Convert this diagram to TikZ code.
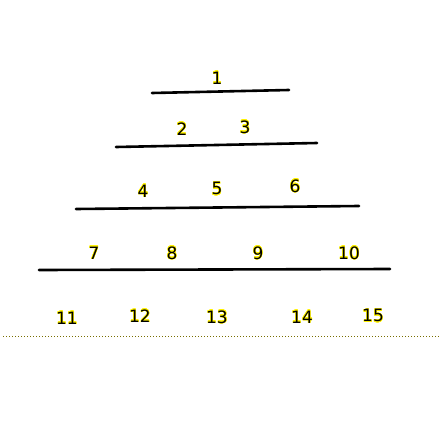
\documentclass[tikz,border=0pt]{standalone}
\usepackage{fontspec}
\setmainfont{DejaVu Sans}
\usepackage{xcolor}
\usepackage{contour}
\contourlength{0.3pt}
\definecolor{dotcol}{RGB}{120,110,0}
\tikzset{
  lbl/.style={inner sep=0pt,yshift=-1pt,font=\fontsize{17}{20}\selectfont},
  bar/.style={line width=2.6pt,line cap=round}
}
\newcommand{\yl}[1]{\contour{yellow}{#1}}
\begin{document}
\begin{tikzpicture}[x=1pt,y=-1pt]
 \useasboundingbox (0,0) rectangle (444,444);

 \coordinate (l1a) at (152,93);
 \coordinate (l1b) at (289,90);
 \coordinate (l2a) at (116,147);
 \coordinate (l2b) at (317,143);
 \coordinate (l3a) at (76,209);
 \coordinate (l3b) at (359,206);
 \coordinate (l4a) at (39,270);
 \coordinate (l4b) at (390,269);

 \coordinate (ba) at (3,336);
 \coordinate (bb) at (439,336);


\draw[bar] (l1a)--(l1b);
\draw[bar] (l2a)--(l2b);
\draw[bar] (l3a)--(l3b);
\draw[bar] (l4a)--(l4b);

\draw[dotcol,line width=1pt,dotted] (ba)--(bb);


\node [lbl] (n1) at (217,77) {\yl{1}};

\node [lbl] (n2) at (182,128) {\yl{2}};
\node [lbl] (n3) at (245,126) {\yl{3}};

\node [lbl] (n4) at (143,190) {\yl{4}};
\node [lbl] (n5) at (217,188) {\yl{5}};
\node [lbl] (n6) at (295,185) {\yl{6}};

\node [lbl] (n7) at (94,252) {\yl{7}};
\node [lbl] (n8) at (172,252) {\yl{8}};
\node [lbl] (n9) at (258,252) {\yl{9}};
\node [lbl] (n10) at (349,252) {\yl{10}};

\node [lbl] (n11) at (67,317) {\yl{11}};
\node [lbl] (n12) at (140,315) {\yl{12}};
\node [lbl] (n13) at (217,316) {\yl{13}};
\node [lbl] (n14) at (302,316) {\yl{14}};
\node [lbl] (n15) at (373,315) {\yl{15}};

\end{tikzpicture}
\end{document}
